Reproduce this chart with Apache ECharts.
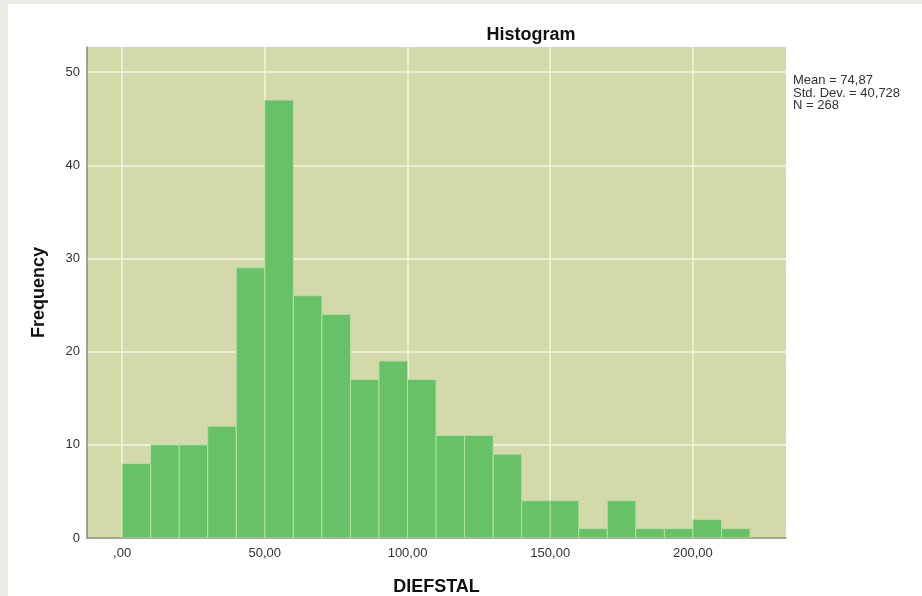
<!DOCTYPE html>
<html>
<head>
<meta charset="utf-8">
<script src="https://cdn.jsdelivr.net/npm/echarts@6/dist/echarts.min.js"></script>
<style>
  html, body { margin: 0; padding: 0; background: #ebeae4; }
  #panel { position: absolute; left: 8px; top: 4px; width: 914px; height: 592px; background: #ffffff; }
  #chart { position: absolute; left: 0; top: 0; width: 922px; height: 596px; }
</style>
</head>
<body>
<div id="panel"></div>
<div id="chart"></div>
<script>
// Histogram bins of DIEFSTAL (bin width 10)
const binStarts = [0, 10, 20, 30, 40, 50, 60, 70, 80, 90, 100, 110, 120, 130, 140, 150, 160, 170, 180, 190, 200, 210];
const binWidth = 10;
const frequencies = [8, 10, 10, 12, 29, 47, 26, 24, 17, 19, 17, 11, 11, 9, 4, 4, 1, 4, 1, 1, 2, 1];

// Axis ticks
const xTicks = [0, 50, 100, 150, 200];
const yTicks = [0, 10, 20, 30, 40, 50];

// Summary statistics shown beside the plot
const statLines = ['Mean = 74,87', 'Std. Dev. = 40,728', 'N = 268'];

const FONT = '"Liberation Sans", Arial, sans-serif';

const chart = echarts.init(document.getElementById('chart'), null, { renderer: 'canvas' });

const binData = binStarts.map((s, i) => [s, s + binWidth, frequencies[i]]);

function formatComma(v) {
  if (v === 0) return ',00';
  return v.toFixed(2).replace('.', ',');
}

chart.setOption({
  backgroundColor: 'transparent',
  animation: false,
  title: {
    text: 'Histogram',
    left: 526,
    textAlign: 'center',
    top: 21,
    textStyle: { fontFamily: FONT, fontSize: 18, fontWeight: 'bold', color: '#111' }
  },
  grid: {
    left: 87, right: 136, top: 47, bottom: 58,
    outerBoundsMode: 'none',
    containLabel: false,
    show: true, backgroundColor: '#d4d9a9', borderWidth: 0
  },
  xAxis: {
    type: 'value',
    min: -12.3,
    max: 232.6,
    name: 'DIEFSTAL',
    nameLocation: 'middle',
    nameGap: 40,
    nameTextStyle: { fontFamily: FONT, fontSize: 18, fontWeight: 'bold', color: '#111' },
    axisLine: { show: true, onZero: false, lineStyle: { color: '#8a8a82', width: 1.5 } },
    axisTick: { show: false, customValues: xTicks },
    axisLabel: {
      customValues: xTicks,
      formatter: formatComma,
      margin: 9,
      fontFamily: FONT, fontSize: 13, color: '#333'
    },
    splitLine: { show: true, lineStyle: { color: '#f3f4e4', width: 1.5 } }
  },
  yAxis: {
    type: 'value',
    min: 0,
    max: 52.7,
    name: 'Frequency',
    nameLocation: 'middle',
    nameGap: 39,
    nameRotate: 90,
    nameTextStyle: { fontFamily: FONT, fontSize: 18, fontWeight: 'bold', color: '#111' },
    axisLine: { show: true, onZero: false, lineStyle: { color: '#8a8a82', width: 1.5 } },
    axisTick: { show: false, customValues: yTicks },
    axisLabel: {
      customValues: yTicks,
      margin: 7,
      fontFamily: FONT, fontSize: 13, color: '#333'
    },
    splitLine: { show: true, lineStyle: { color: '#f3f4e4', width: 1.5 } }
  },
  series: [{
    type: 'custom',
    data: binData,
    encode: { x: [0, 1], y: 2 },
    clip: true,
    renderItem: function (params, api) {
      const x0 = api.value(0), x1 = api.value(1), y = api.value(2);
      const top = api.coord([x0, y]);
      const bottom = api.coord([x1, 0]);
      return {
        type: 'rect',
        shape: { x: top[0], y: top[1], width: bottom[0] - top[0], height: bottom[1] - top[1] },
        style: { fill: '#66c167', stroke: '#b3dfa4', lineWidth: 1 }
      };
    }
  }],
  graphic: statLines.map((t, i) => ({
    type: 'text',
    left: 793,
    top: 74 + i * 12.5,
    style: { text: t, fontFamily: FONT, fontSize: 13, fill: '#333' }
  }))
});
</script>
</body>
</html>
